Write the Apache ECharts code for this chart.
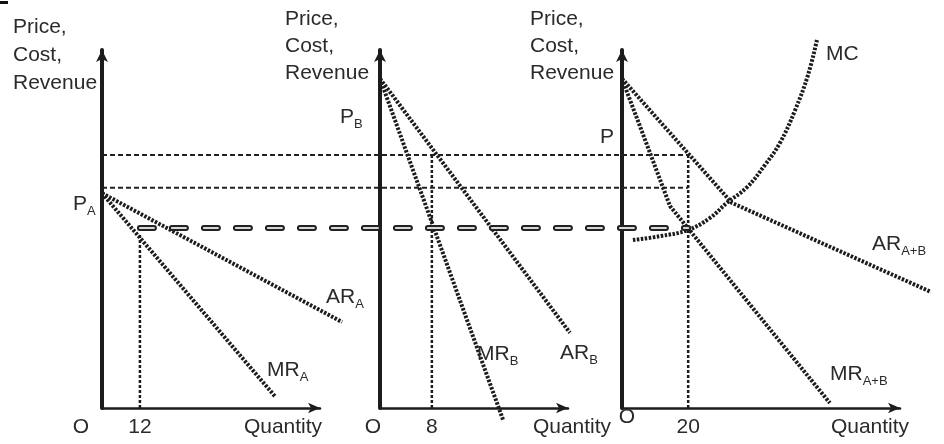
<!DOCTYPE html>
<html><head><meta charset="utf-8">
<script src="https://cdn.jsdelivr.net/npm/echarts@6/dist/echarts.min.js"></script>
<style>html,body{margin:0;padding:0;background:#fff}#c{width:944px;height:444px}</style>
</head><body><div id="c"></div>
<script>
// ---------------- data (price units 0..100, quantity units per panel) ----------------
const xMax = [69, 29, 84];                 // quantity axis extent of each panel
const priceMax = 100;
const arA = [[0, 60], [76, 24]];
const mrA = [[0, 60], [55, 3]];
const qA = 12, qATop = 48.9;
const arB = [[0, 92], [29.3, 21]];
const mrB = [[0, 92], [19, -3.4]];
const qB = 8, qBTop = 70.7;
const arT = [[0, 92], [33.2, 57.3], [93.4, 32.4]];
const mrT = [[0, 92], [14.5, 56.4], [62.8, 1.4]];
const mcT = [[3.3, 46.9], [11.5, 48.0], [19.9, 49.7], [26.6, 53.1], [31.7, 57.3], [37.8, 61.7],
             [43.2, 67.9], [47.7, 74.0], [52.3, 83.2], [56.2, 93.0], [58.9, 102.8]];
const qT = 20, qTTop = 70.7;
const priceP = 70.7;      // upper dashed level
const priceMid = 61.5;    // second dashed level
const mcLevel = 50.3;     // MC = MR level (long dashes)
const ticks = [[12], [8], [20]];

// ---------------- layout ----------------
const FONT = '"Liberation Sans", Arial, sans-serif';
const gridsPx = [{left: 102, width: 218}, {left: 380, width: 188}, {left: 622, width: 278}];
const EXT = 1.15;   // drawing grids are wider copies so curves may run past the axis arrow
const INK = '#1c1c1c';
const curveStyle = {color: INK, width: 4, type: [2.5, 1.5]};
const dotStyle = {color: INK, width: 2.5, type: [3, 2]};

const chart = echarts.init(document.getElementById('c'), null, {renderer: 'canvas'});

const grid = [];
const xAxis = [];
const yAxis = [];
gridsPx.forEach((g, i) => {
  grid.push({left: g.left, width: g.width, top: 50, height: 358, outerBoundsMode: 'none'});
  xAxis.push({
    gridIndex: i, type: 'value', min: 0, max: xMax[i],
    axisLine: {show: true, onZero: false, symbol: ['none', 'arrow'], symbolSize: [8, 12],
               lineStyle: {color: INK, width: 2.5}},
    axisTick: {show: false}, splitLine: {show: false},
    axisLabel: {customValues: ticks[i], fontSize: 21, color: '#2a2a2a', margin: 9, fontFamily: FONT}
  });
  yAxis.push({
    gridIndex: i, type: 'value', min: 0, max: priceMax,
    axisLine: {show: true, onZero: false, symbol: ['none', 'arrow'], symbolSize: [9, 12],
               lineStyle: {color: INK, width: 4}},
    axisTick: {show: false}, axisLabel: {show: false}, splitLine: {show: false}
  });
});
// hidden drawing grids with identical scales, just wider
gridsPx.forEach((g, i) => {
  const gi = 3 + i;
  grid.push({left: g.left, width: g.width * EXT, top: 50, height: 358, outerBoundsMode: 'none'});
  xAxis.push({gridIndex: gi, type: 'value', min: 0, max: xMax[i] * EXT, show: false});
  yAxis.push({gridIndex: gi, type: 'value', min: 0, max: priceMax, show: false});
});

function line(i, data, style, smooth) {
  const gi = 3 + i;
  return {type: 'line', xAxisIndex: gi, yAxisIndex: gi, data, symbol: 'none', clip: false,
          smooth: smooth || false, silent: true, animation: false, lineStyle: style};
}
const series = [
  line(0, arA, curveStyle), line(0, mrA, curveStyle), line(0, [[qA, 0], [qA, qATop]], dotStyle),
  line(1, arB, curveStyle), line(1, mrB, curveStyle), line(1, [[qB, 0], [qB, qBTop]], dotStyle),
  line(2, arT, curveStyle), line(2, mrT, curveStyle), line(2, mcT, curveStyle, 0.4),
  line(2, [[qT, 0], [qT, qTTop]], dotStyle)
];

chart.setOption({animation: false, grid, xAxis, yAxis, series});

// ---------------- cross-panel guide lines & text ----------------
const px = (gi, pt) => chart.convertToPixel({gridIndex: gi}, pt);
function hline(fromG, fromQ, toG, toQ, price, style) {
  const a = px(fromG, [fromQ, price]), b = px(toG, [toQ, price]);
  return {type: 'line', shape: {x1: a[0], y1: a[1], x2: b[0], y2: b[1]}, style, silent: true, z: 5};
}
const graphics = [
  hline(0, 0, 2, qT, priceP, {stroke: '#222', lineWidth: 2, lineDash: [5, 3]}),
  hline(0, 0, 2, qT, priceMid, {stroke: '#222', lineWidth: 2, lineDash: [5, 3]}),
  hline(0, qA, 2, qT, mcLevel, {stroke: '#222', lineWidth: 6, lineDash: [14, 18], lineCap: 'round'}),
  hline(0, qA, 2, qT, mcLevel, {stroke: '#d8d8d8', lineWidth: 2, lineDash: [14, 18], lineCap: 'round'})
];
const rich = {m: {fontSize: 21, fontFamily: FONT, fill: '#2a2a2a', verticalAlign: 'bottom'},
              s: {fontSize: 13, fontFamily: FONT, fill: '#2a2a2a', verticalAlign: 'bottom', padding: [0, 0, -3, 0]}};
function text(x, y, t, extra) {
  return {type: 'text', x, y, silent: true, z: 10,
          style: Object.assign({text: t, fontSize: 21, fontFamily: FONT, fill: '#2a2a2a',
                                verticalAlign: 'top', align: 'left', rich}, extra || {})};
}
graphics.push(
  text(13, 13, 'Price,\nCost,\nRevenue', {lineHeight: 28}),
  text(285, 6, 'Price,\nCost,\nRevenue', {lineHeight: 27}),
  text(530, 6, 'Price,\nCost,\nRevenue', {lineHeight: 27}),
  text(81, 417, 'O', {align: 'center'}),
  text(373, 417, 'O', {align: 'center'}),
  text(627, 407, 'O', {align: 'center'}),
  text(283, 417, 'Quantity', {align: 'center'}),
  text(572, 417, 'Quantity', {align: 'center'}),
  text(870, 417, 'Quantity', {align: 'center'}),
  text(73, 194, '{m|P}{s|A}'),
  text(340, 107, '{m|P}{s|B}'),
  text(600, 127, 'P'),
  text(826, 44, 'MC'),
  text(326, 287, '{m|AR}{s|A}'),
  text(267, 360, '{m|MR}{s|A}'),
  text(477, 344, '{m|MR}{s|B}'),
  text(560, 343, '{m|AR}{s|B}'),
  text(872, 234, '{m|AR}{s|A+B}'),
  text(830, 364, '{m|MR}{s|A+B}'),
  {type: 'rect', shape: {x: 0, y: 1, width: 8, height: 3}, style: {fill: '#111'}, silent: true}
);
chart.setOption({graphic: graphics});
</script></body></html>
